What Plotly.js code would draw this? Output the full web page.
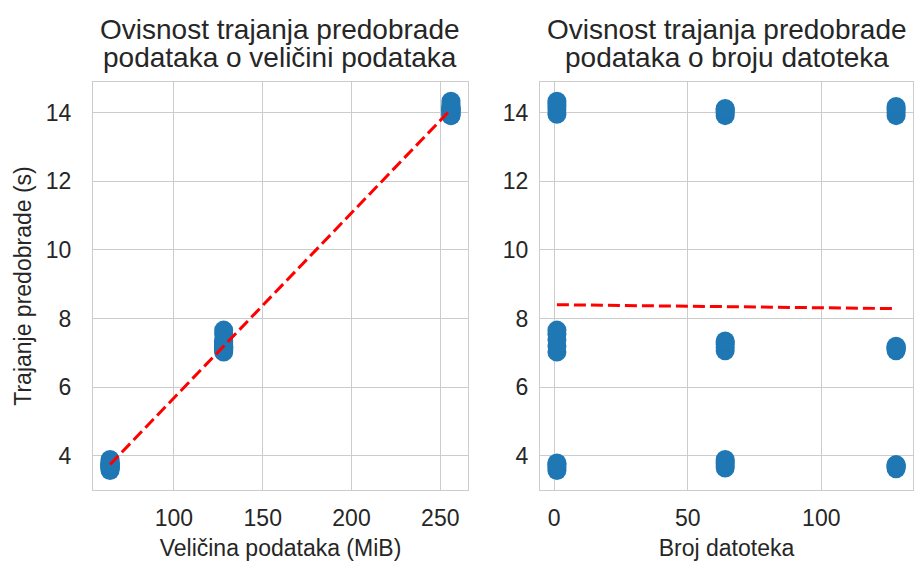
<!DOCTYPE html>
<html><head><meta charset="utf-8">
<script src="https://cdn.plot.ly/plotly-3.0.1.min.js"></script>
<style>html,body{margin:0;padding:0;background:#fff}#chart{width:918px;height:568px}</style>
</head><body><div id="chart"></div>
<script>
// Measured runs: data size (MiB), number of files, preprocessing duration (s)
const sizeMiB = [
  64,64,64,64,64, 64,64,64,64,64, 64,64,64,64,64,
  128,128,128,128,128, 128,128,128,128,128, 128,128,128,128,128,
  256,256,256,256,256, 256,256,256,256,256, 256,256,256,256,256
];
const fileCount = [
  1,1,1,1,1, 64,64,64,64,64, 128,128,128,128,128,
  1,1,1,1,1, 64,64,64,64,64, 128,128,128,128,128,
  1,1,1,1,1, 64,64,64,64,64, 128,128,128,128,128
];
const durationS = [
  3.57,3.64,3.70,3.75,3.79, 3.64,3.71,3.77,3.83,3.89, 3.62,3.66,3.70,3.72,3.74,
  7.02,7.20,7.38,7.54,7.66, 7.06,7.15,7.24,7.30,7.34, 7.06,7.10,7.13,7.16,7.19,
  13.95,14.08,14.18,14.26,14.33, 13.91,13.98,14.04,14.09,14.12, 13.91,13.99,14.06,14.12,14.18
];

const titleLeft = ['Ovisnost trajanja predobrade', 'podataka o veličini podataka'];
const titleRight = ['Ovisnost trajanja predobrade', 'podataka o broju datoteka'];
const xLabelLeft = 'Veličina podataka (MiB)';
const xLabelRight = 'Broj datoteka';
const yLabel = 'Trajanje predobrade (s)';
const xTicksLeft = [100,150,200,250];
const xTicksRight = [0,50,100];
const yTicks = [4,6,8,10,12,14];

function fitLine(xs, ys){
  const n = xs.length;
  const mx = xs.reduce((a,b)=>a+b,0)/n, my = ys.reduce((a,b)=>a+b,0)/n;
  let sxy=0, sxx=0;
  for(let i=0;i<n;i++){ sxy += (xs[i]-mx)*(ys[i]-my); sxx += (xs[i]-mx)*(xs[i]-mx); }
  const b = sxy/sxx, a = my - b*mx;
  const x0 = Math.min(...xs), x1 = Math.max(...xs);
  return {x:[x0,x1], y:[a+b*x0, a+b*x1]};
}
const fitL = fitLine(sizeMiB, durationS);
const fitR = fitLine(fileCount, durationS);

const FONT = '"Liberation Sans", Arial, sans-serif';
const TXT = '#262626';
const BLUE = '#1f77b4';
const marker = {color: BLUE, size: 19, line: {width: 0}};
const dashLine = {color: '#ff0000', width: 3, dash: '12px,5px'};

const traces = [
  {type:'scatter', mode:'markers', x:sizeMiB, y:durationS, xaxis:'x', yaxis:'y', marker:marker, showlegend:false, hoverinfo:'skip'},
  {type:'scatter', mode:'lines', x:fitL.x, y:fitL.y, xaxis:'x', yaxis:'y', line:dashLine, showlegend:false, hoverinfo:'skip'},
  {type:'scatter', mode:'markers', x:fileCount, y:durationS, xaxis:'x2', yaxis:'y2', marker:marker, showlegend:false, hoverinfo:'skip'},
  {type:'scatter', mode:'lines', x:fitR.x, y:fitR.y, xaxis:'x2', yaxis:'y2', line:dashLine, showlegend:false, hoverinfo:'skip'}
];

const axBase = {
  showgrid:true, gridcolor:'#cccccc', gridwidth:1, zeroline:false,
  showline:true, linecolor:'#cccccc', linewidth:1, mirror:true,
  ticks:'', tickfont:{family:FONT, size:23, color:TXT}, automargin:false
};
const yRange = [3.0, 14.89];
const labelFont = {family:FONT, size:23, color:TXT};
const titleFont = {family:FONT, size:28, color:TXT};

function titleAnn(lines, xref){
  return lines.map((t,i)=>({text:t, xref:xref, yref:'paper', x:0.5, y:i===0?0.9489:0.8996,
    xanchor:'center', yanchor:'middle', showarrow:false, font:titleFont}));
}

const layout = {
  width:918, height:568,
  margin:{l:0, r:0, t:0, b:0},
  paper_bgcolor:'#ffffff', plot_bgcolor:'#ffffff',
  font:{family:FONT, color:TXT},
  showlegend:false,
  xaxis: Object.assign({}, axBase, {domain:[0.1013,0.5098], range:[54.4,265.6], tickmode:'array', tickvals:xTicksLeft, ticklabelstandoff:7, anchor:'y',
    title:{text:xLabelLeft, font:labelFont, standoff:10}}),
  yaxis: Object.assign({}, axBase, {domain:[0.1373,0.8556], range:yRange, tickmode:'array', tickvals:yTicks, ticklabelstandoff:16, anchor:'x',
    title:{text:yLabel, font:labelFont, standoff:7}}),
  xaxis2: Object.assign({}, axBase, {domain:[0.5882,0.9946], range:[-5.35,134.35], tickmode:'array', tickvals:xTicksRight, ticklabelstandoff:7, anchor:'y2',
    title:{text:xLabelRight, font:labelFont, standoff:10}}),
  yaxis2: Object.assign({}, axBase, {domain:[0.1373,0.8556], range:yRange, tickmode:'array', tickvals:yTicks, ticklabelstandoff:6, anchor:'x2'}),
  annotations: titleAnn(titleLeft, 'x domain').concat(titleAnn(titleRight, 'x2 domain'))
};

Plotly.newPlot('chart', traces, layout, {displayModeBar:false, staticPlot:true});
</script>
</body></html>
